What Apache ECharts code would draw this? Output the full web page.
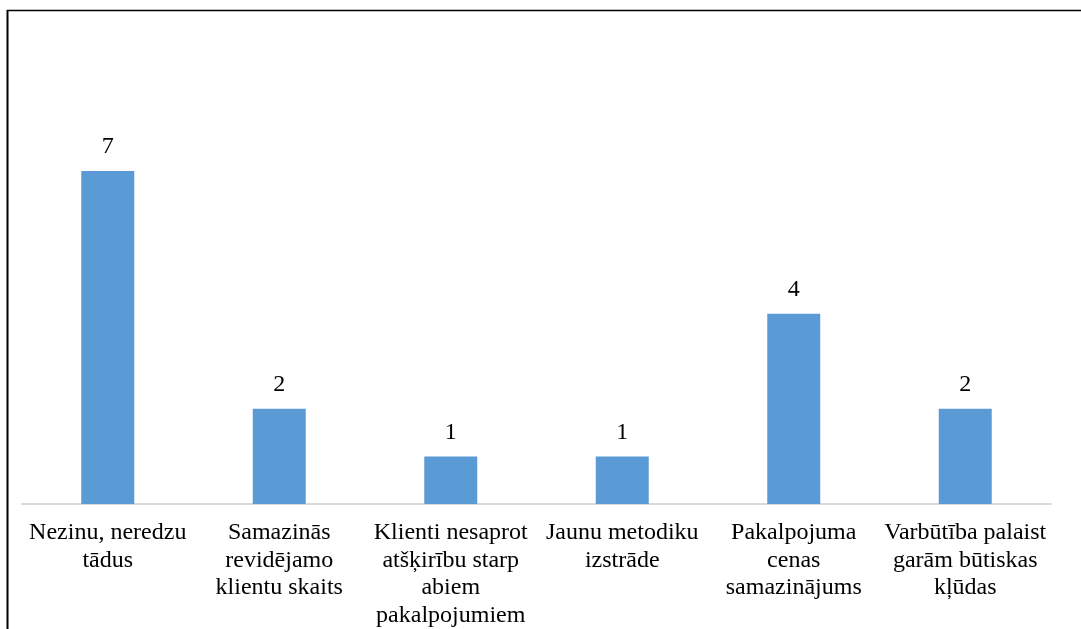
<!DOCTYPE html>
<html>
<head>
<meta charset="utf-8">
<script src="https://cdn.jsdelivr.net/npm/echarts@6/dist/echarts.min.js"></script>
<style>
html,body{margin:0;padding:0;background:#fff;}
#chart{width:1081px;height:629px;}
</style>
</head>
<body>
<div id="chart"></div>
<script>
const categories = [
  "Nezinu, neredzu\ntādus",
  "Samazinās\nrevidējamo\nklientu skaits",
  "Klienti nesaprot\natšķirību starp\nabiem\npakalpojumiem",
  "Jaunu metodiku\nizstrāde",
  "Pakalpojuma\ncenas\nsamazinājums",
  "Varbūtība palaist\ngarām būtiskas\nkļūdas"
];
const values = [7, 2, 1, 1, 4, 2];

const chart = echarts.init(document.getElementById('chart'));
const font = '"Liberation Serif", "Times New Roman", serif';
chart.setOption({
  animation: false,
  backgroundColor: '#ffffff',
  grid: { left: 22, top: 171, width: 1029, height: 333, containLabel: false },
  xAxis: {
    type: 'category',
    data: categories,
    axisLine: { lineStyle: { color: '#d9d9d9', width: 2 } },
    axisTick: { show: false },
    axisLabel: {
      interval: 0,
      margin: 15,
      color: '#000',
      fontFamily: font,
      fontSize: 24,
      lineHeight: 27.5,
      align: 'center'
    }
  },
  yAxis: {
    type: 'value',
    min: 0,
    max: 7,
    show: false,
    splitLine: { show: false }
  },
  series: [{
    type: 'bar',
    data: values,
    barWidth: 53,
    itemStyle: { color: '#5b9bd5' },
    label: {
      show: true,
      position: 'top',
      distance: 12,
      color: '#000',
      fontFamily: font,
      fontSize: 24
    }
  }],
  graphic: [
    { type: 'line', shape: { x1: 7, y1: 10.5, x2: 1081, y2: 10.5 }, style: { stroke: '#000', lineWidth: 1.5 } },
    { type: 'line', shape: { x1: 7.5, y1: 10, x2: 7.5, y2: 629 }, style: { stroke: '#000', lineWidth: 2 } }
  ]
});
</script>
</body>
</html>
